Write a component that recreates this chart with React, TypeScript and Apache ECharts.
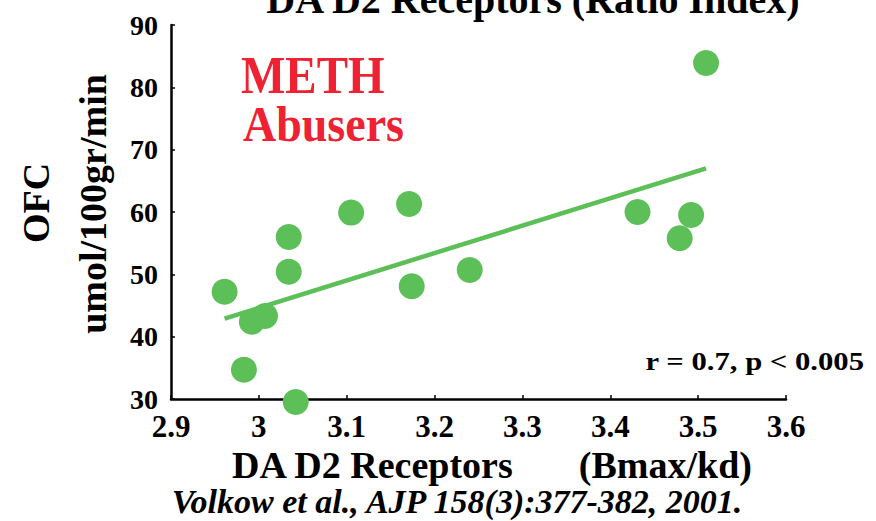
import React, { useEffect, useRef } from "react";
import * as echarts from "echarts";

const xValues = [2.961, 2.992, 3.007, 2.983, 3.034, 3.034, 3.042, 3.105, 3.171, 3.174, 3.240, 3.431, 3.479, 3.492, 3.509];
const yValues = [47.2, 42.4, 43.3, 34.7, 56.0, 50.4, 29.5, 59.9, 61.3, 48.1, 50.7, 60.0, 55.8, 59.5, 83.9];
const fitX = [2.961, 3.509];
const fitY = [42.9, 67.0];
const xTicks = { min: 2.9, max: 3.6, interval: 0.1 };
const yTicks = { min: 30, max: 90, interval: 10 };

const SERIF = "'Liberation Serif', 'Times New Roman', serif";
const GREEN = "#5cbf58";
const RED = "#ee2233";

export default function App() {
  const ref = useRef<HTMLDivElement>(null);
  useEffect(() => {
    if (!ref.current) return;
    const chart = echarts.init(ref.current, null, { renderer: "svg" });
    chart.setOption({
      animation: false,
      backgroundColor: "#ffffff",
      grid: { left: 171, right: 90, top: 25, bottom: 122, containLabel: false },
      xAxis: {
        type: "value",
        min: xTicks.min,
        max: xTicks.max,
        interval: xTicks.interval,
        axisLine: { show: true, lineStyle: { color: "#000", width: 2.5 } },
        axisTick: { show: true, inside: true, length: 4, lineStyle: { color: "#000", width: 1.5 } },
        splitLine: { show: false },
        axisLabel: {
          color: "#000",
          fontFamily: SERIF,
          fontWeight: "bold",
          fontSize: 31,
          margin: 12,
          formatter: (v: number) => String(Math.round(v * 10) / 10),
        },
      },
      yAxis: {
        type: "value",
        min: yTicks.min,
        max: yTicks.max,
        interval: yTicks.interval,
        axisLine: { show: true, lineStyle: { color: "#000", width: 2.5 } },
        axisTick: { show: true, inside: true, length: 4, lineStyle: { color: "#000", width: 1.5 } },
        splitLine: { show: false },
        axisLabel: {
          color: "#000",
          fontFamily: SERIF,
          fontWeight: "bold",
          fontSize: 28,
          margin: 13,
        },
      },
      series: [
        {
          type: "line",
          data: fitX.map((x, i) => [x, fitY[i]]),
          showSymbol: false,
          symbol: "none",
          lineStyle: { color: GREEN, width: 4.5 },
          z: 2,
        },
        {
          type: "scatter",
          data: xValues.map((x, i) => [x, yValues[i]]),
          symbol: "circle",
          symbolSize: 26,
          clip: false,
          itemStyle: { color: GREEN, opacity: 1 },
          z: 3,
        },
      ],
      graphic: [
        {
          type: "text",
          style: {
            text: "DA D2 Receptors (Ratio Index)",
            x: 533,
            y: -1,
            align: "center",
            verticalAlign: "middle",
            fontFamily: SERIF,
            fontWeight: "bold",
            fontSize: 40,
            fill: "#000",
          },
        },
        {
          type: "text",
          x: 241,
          y: 76,
          scaleY: 1.12,
          style: {
            text: "METH",
            x: 0,
            y: 0,
            align: "left",
            verticalAlign: "middle",
            fontFamily: SERIF,
            fontWeight: "bold",
            fontSize: 47,
            fill: RED,
          },
        },
        {
          type: "text",
          x: 243,
          y: 124,
          scaleY: 1.08,
          style: {
            text: "Abusers",
            x: 0,
            y: 0,
            align: "left",
            verticalAlign: "middle",
            fontFamily: SERIF,
            fontWeight: "bold",
            fontSize: 46,
            fill: RED,
          },
        },
        {
          type: "text",
          x: 36,
          y: 203,
          rotation: Math.PI / 2,
          style: {
            text: "OFC",
            x: 0,
            y: 0,
            align: "center",
            verticalAlign: "middle",
            fontFamily: SERIF,
            fontWeight: "bold",
            fontSize: 38,
            fill: "#000",
          },
        },
        {
          type: "text",
          x: 93,
          y: 204,
          rotation: Math.PI / 2,
          style: {
            text: "umol/100gr/min",
            x: 0,
            y: 0,
            align: "center",
            verticalAlign: "middle",
            fontFamily: SERIF,
            fontWeight: "bold",
            fontSize: 38,
            fill: "#000",
          },
        },
        {
          type: "text",
          x: 864,
          y: 361,
          scaleX: 1.18,
          style: {
            text: "r = 0.7, p < 0.005",
            x: 0,
            y: 0,
            align: "right",
            verticalAlign: "middle",
            fontFamily: SERIF,
            fontWeight: "bold",
            fontSize: 26,
            fill: "#000",
          },
        },
        {
          type: "text",
          style: {
            text: "DA D2 Receptors",
            x: 232,
            y: 465,
            align: "left",
            verticalAlign: "middle",
            fontFamily: SERIF,
            fontWeight: "bold",
            fontSize: 38,
            lineHeight: 34,
            fill: "#000",
          },
        },
        {
          type: "text",
          style: {
            text: "(Bmax/kd)",
            x: 752,
            y: 465,
            align: "right",
            verticalAlign: "middle",
            fontFamily: SERIF,
            fontWeight: "bold",
            fontSize: 38,
            lineHeight: 34,
            fill: "#000",
          },
        },
        {
          type: "text",
          style: {
            text: "Volkow et al., AJP 158(3):377-382, 2001.",
            x: 457,
            y: 501,
            align: "center",
            verticalAlign: "middle",
            fontFamily: SERIF,
            fontWeight: "bold",
            fontStyle: "italic",
            fontSize: 34,
            lineHeight: 30,
            fill: "#000",
          },
        },
      ],
    });
    return () => chart.dispose();
  }, []);
  return <div ref={ref} style={{ width: 876, height: 521, position: "absolute", left: 0, top: 0 }} />;
}
